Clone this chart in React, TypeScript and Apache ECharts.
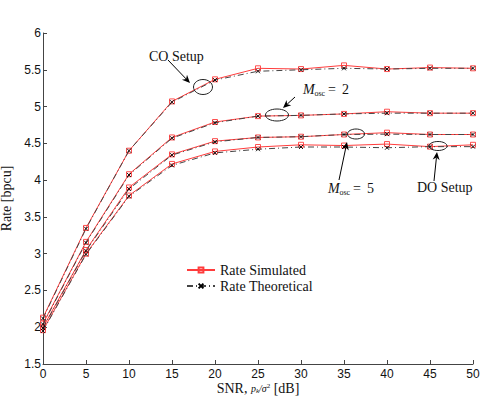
import React, { useEffect, useRef } from "react";
import * as echarts from "echarts";

const snr = [0, 5, 10, 15, 20, 25, 30, 35, 40, 45, 50];

// CO setup
const coSim = [2.13, 3.35, 4.4, 5.07, 5.37, 5.52, 5.51, 5.56, 5.51, 5.53, 5.52];
const coTheo = [2.12, 3.34, 4.4, 5.06, 5.36, 5.48, 5.5, 5.52, 5.51, 5.52, 5.52];
// M_osc = 2
const m2Sim = [2.05, 3.16, 4.08, 4.58, 4.79, 4.87, 4.88, 4.9, 4.93, 4.91, 4.91];
const m2Theo = [2.04, 3.15, 4.07, 4.57, 4.78, 4.87, 4.88, 4.9, 4.91, 4.91, 4.91];
// M_osc = 5
const m5Sim = [2.0, 3.05, 3.9, 4.35, 4.53, 4.58, 4.59, 4.62, 4.645, 4.62, 4.62];
const m5Theo = [1.99, 3.04, 3.88, 4.34, 4.52, 4.58, 4.59, 4.62, 4.625, 4.62, 4.62];
// DO setup
const doSim = [1.96, 3.0, 3.79, 4.22, 4.39, 4.45, 4.48, 4.47, 4.49, 4.455, 4.48];
const doTheo = [1.95, 2.99, 3.78, 4.2, 4.37, 4.42, 4.45, 4.45, 4.44, 4.455, 4.455];

const yTicks = { min: 1.5, max: 6, interval: 0.5 };
const xTicks = { min: 0, max: 50, interval: 5 };

const SERIF = '"Liberation Serif", "DejaVu Serif", serif';
const SANS = '"Liberation Sans", Arial, sans-serif';
const RED = "#ff3c3c";

function pairs(ys: number[]) {
  return snr.map((x, i) => [x, ys[i]]);
}

function simSeries(ys: number[]) {
  return {
    type: "line",
    name: "Rate Simulated",
    data: pairs(ys),
    symbol: "path://M0,0L10,0L10,10L0,10Z",
    symbolSize: 5,
    lineStyle: { color: RED, width: 1 },
    itemStyle: { color: "none", borderColor: RED, borderWidth: 0.9 },
    emphasis: { disabled: true },
    z: 2,
  };
}

function theoSeries(ys: number[]) {
  return {
    type: "line",
    name: "Rate Theoretical",
    data: pairs(ys),
    symbol: "path://M0,0L10,10M0,10L10,0",
    symbolSize: 4,
    lineStyle: { color: "#444", width: 1, type: [6, 3, 1, 3] },
    itemStyle: { color: "none", borderColor: "#000", borderWidth: 0.9 },
    emphasis: { disabled: true },
    z: 3,
  };
}

function arrow(x1: number, y1: number, x2: number, y2: number) {
  const dx = x2 - x1;
  const dy = y2 - y1;
  const L = Math.hypot(dx, dy);
  const ux = dx / L;
  const uy = dy / L;
  const hl = 8;
  const hw = 3.5;
  const bx = x2 - ux * hl;
  const by = y2 - uy * hl;
  const px = -uy;
  const py = ux;
  const mx = x2 - ux * hl * 0.7;
  const my = y2 - uy * hl * 0.7;
  return [
    {
      type: "line",
      z: 100,
      shape: { x1, y1, x2: mx, y2: my },
      style: { stroke: "#000", lineWidth: 1 },
    },
    {
      type: "polygon",
      z: 100,
      shape: {
        points: [
          [x2, y2],
          [bx + px * hw, by + py * hw],
          [mx, my],
          [bx - px * hw, by - py * hw],
        ],
      },
      style: { fill: "#000" },
    },
  ];
}

function ellipse(cx: number, cy: number, rx: number, ry: number) {
  return {
    type: "ellipse",
    z: 100,
    shape: { cx, cy, rx, ry },
    style: { fill: "none", stroke: "#222", lineWidth: 1 },
  };
}

function txt(t: string, x: number, y: number, size: number, italic = false, font = SERIF) {
  return {
    type: "text",
    z: 100,
    x,
    y,
    style: {
      text: t,
      font: `${italic ? "italic " : ""}${size}px ${font}`,
      fill: "#111",
      textAlign: "left",
      textVerticalAlign: "middle",
      align: "left",
      verticalAlign: "middle",
    },
  };
}

function moscLabel(x: number, y: number, n: string) {
  return [
    txt("M", x, y, 14, true),
    txt("osc", x + 11.5, y + 4, 8),
    txt("=", x + 25, y, 14),
    txt(n, x + 39, y, 14),
  ];
}

const xNameRich = {
  n: { fontFamily: SERIF, fontSize: 14, lineHeight: 14, verticalAlign: "middle" },
  i: { fontFamily: SERIF, fontSize: 10, fontStyle: "italic", lineHeight: 14, verticalAlign: "middle" },
  sub: { fontFamily: SERIF, fontSize: 7, fontStyle: "italic", lineHeight: 14, verticalAlign: "bottom", padding: [0, 0, 1, 0] },
  sup: { fontFamily: SERIF, fontSize: 7, lineHeight: 14, verticalAlign: "top", padding: [1, 0, 0, 0] },
};

export default function App() {
  const ref = useRef<HTMLDivElement>(null);

  useEffect(() => {
    if (!ref.current) return;
    const chart = echarts.init(ref.current, null, { renderer: "svg" });
    const option = {
      animation: false,
      backgroundColor: "#fff",
      grid: {
        left: 43,
        right: 12,
        top: 33,
        bottom: 32,
        containLabel: false,
        outerBoundsMode: "none",
      },
      legend: {
        data: ["Rate Simulated", "Rate Theoretical"],
        orient: "vertical",
        left: 186,
        top: 263,
        padding: 0,
        itemWidth: 28,
        itemHeight: 6,
        itemGap: 2,
        textStyle: { fontFamily: SERIF, fontSize: 14, color: "#111", lineHeight: 14 },
        selectedMode: false,
      },
      xAxis: {
        type: "value",
        ...xTicks,
        axisLine: { show: true, lineStyle: { color: "#444", width: 1 } },
        axisTick: { show: true, inside: true, length: 4, lineStyle: { color: "#444" } },
        axisLabel: { fontFamily: SANS, fontSize: 12, color: "#111", margin: 4 },
        splitLine: { show: false },
      },
      yAxis: {
        type: "value",
        ...yTicks,
        name: "Rate [bpcu]",
        nameLocation: "middle",
        nameGap: 25,
        nameRotate: 90,
        nameTextStyle: { fontFamily: SERIF, fontSize: 14, color: "#111" },
        axisLine: { show: true, lineStyle: { color: "#444", width: 1 } },
        axisTick: { show: true, inside: true, length: 4, lineStyle: { color: "#444" } },
        axisLabel: { fontFamily: SANS, fontSize: 12, color: "#111", margin: 2 },
        splitLine: { show: false },
      },
      series: [
        simSeries(coSim),
        simSeries(m2Sim),
        simSeries(m5Sim),
        simSeries(doSim),
        theoSeries(coTheo),
        theoSeries(m2Theo),
        theoSeries(m5Theo),
        theoSeries(doTheo),
      ],
      graphic: [
        ellipse(203, 87, 9.5, 7.5),
        ellipse(277, 115, 11.5, 6),
        ellipse(356, 134, 8.5, 5),
        ellipse(438, 146, 9, 4.5),
        ...arrow(168, 60, 190, 83),
        ...arrow(295, 97, 283, 108),
        ...arrow(339, 180, 347, 142),
        ...arrow(434, 181, 437, 152),
        txt("CO Setup", 149, 56, 14),
        txt("DO Setup", 417, 187, 14),
        ...moscLabel(303, 89, "2"),
        ...moscLabel(328, 188, "5"),
        // x-axis name: SNR, p_k / sigma^2 [dB]
        {
          type: "text",
          z: 100,
          x: 258,
          y: 388,
          style: {
            text: "{n|SNR, }{i|p}{sub|k}{i|/σ}{sup|2}{n| [dB]}",
            rich: xNameRich,
            fill: "#111",
            textAlign: "center",
            textVerticalAlign: "middle",
            align: "center",
            verticalAlign: "middle",
          },
        },
      ],
    };
    chart.setOption(option as any);
    return () => chart.dispose();
  }, []);

  return (
    <div
      ref={ref}
      style={{ position: "fixed", left: 0, top: 0, width: 485, height: 396 }}
    />
  );
}
